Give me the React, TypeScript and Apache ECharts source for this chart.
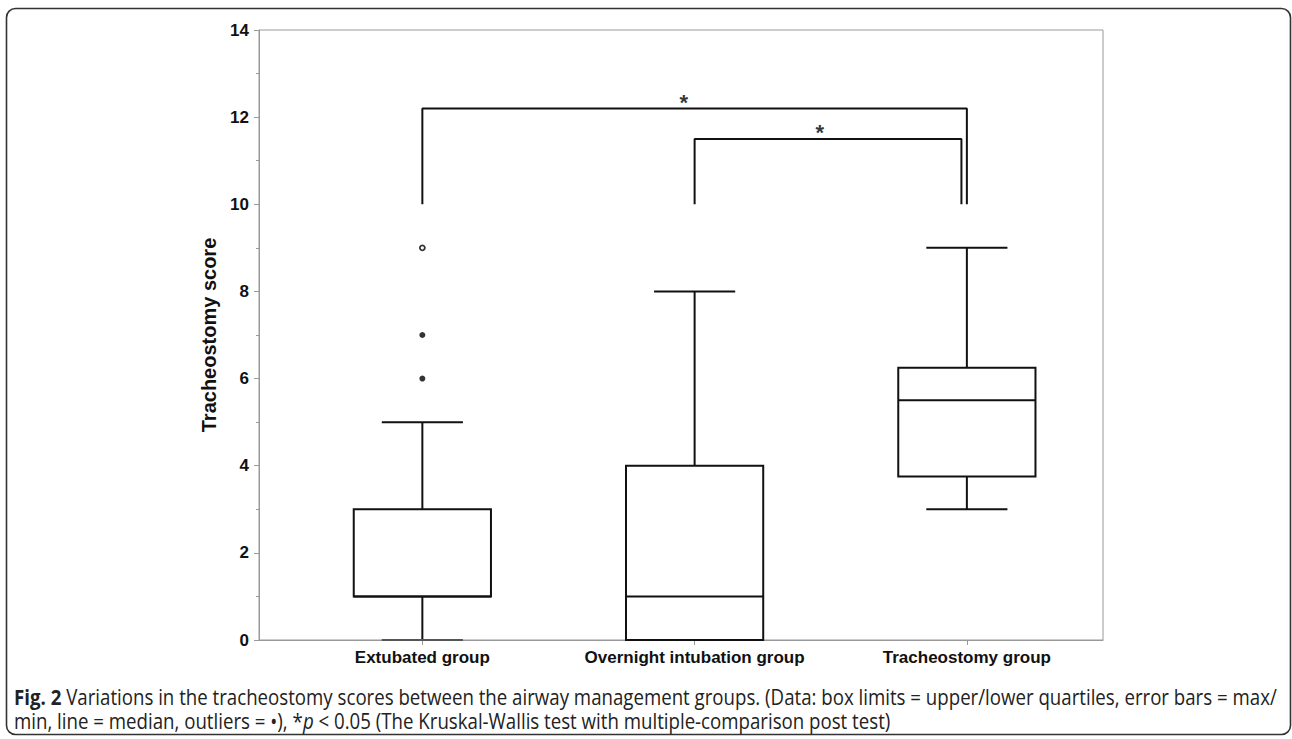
import React, { useEffect, useRef } from "react";
import * as echarts from "echarts";

const categories = ["Extubated group", "Overnight intubation group", "Tracheostomy group"];
const positions = [1, 2, 3];
// [min, Q1, median, Q3, max]
const boxStats = [
  [0, 1, 1, 3, 5],
  [0, 0, 1, 4, 8],
  [3, 3.75, 5.5, 6.25, 9],
];
const filledOutliers = [[1, 7], [1, 6]];
const openOutliers = [[1, 9]];
const bracket1 = [[1, 10], [1, 12.2], [3, 12.2], [3, 10]];
const bracket2 = [[2, 10], [2, 11.5], [2.98, 11.5], [2.98, 10]];
const stars = [[1.96, 12.2], [2.46, 11.5]];
const yTicks = { min: 0, max: 14, interval: 2 };
const captionBold = "Fig. 2";
const caption1 = " Variations in the tracheostomy scores between the airway management groups. (Data: box limits = upper/lower quartiles, error bars = max/";
const caption2a = "min, line = median, outliers = •), *";
const caption2b = "p";
const caption2c = " < 0.05 (The Kruskal-Wallis test with multiple-comparison post test)";

export default function App() {
  const ref = useRef<HTMLDivElement>(null);
  useEffect(() => {
    document.body.style.margin = "0";
    const chart = echarts.init(ref.current!, null, { renderer: "svg" });
    const boxData = positions.map((p, i) => [p, ...boxStats[i]]);
    const font = "'Liberation Sans', Arial, sans-serif";
    const capFont = "'Open Sans', sans-serif";
    const capSize = 21;
    const cv = document.createElement("canvas").getContext("2d")!;
    cv.font = `bold ${capSize}px ${capFont}`;
    const wb = cv.measureText(captionBold).width;
    cv.font = `${capSize}px ${capFont}`;
    const w1 = wb + cv.measureText(caption1).width;
    const sx = 1264 / w1;
    const capFill = "#222";
    chart.setOption({
      animation: false,
      backgroundColor: "#fff",
      grid: { left: 259, top: 30, right: 189, bottom: 99, show: true, borderColor: "#999", borderWidth: 1 },
      xAxis: {
        type: "value",
        min: 0.4,
        max: 3.5,
        splitLine: { show: false },
        axisLine: { lineStyle: { color: "#999", width: 1 } },
        axisTick: { customValues: positions, length: 5, lineStyle: { color: "#999" } },
        axisLabel: {
          customValues: positions,
          formatter: (v: number) => categories[positions.indexOf(Math.round(v))] || "",
          color: "#111",
          fontWeight: "bold",
          fontSize: 17,
          fontFamily: font,
          margin: 9,
        },
      },
      yAxis: {
        type: "value",
        min: yTicks.min,
        max: yTicks.max,
        interval: yTicks.interval,
        name: "Tracheostomy score",
        nameLocation: "middle",
        nameGap: 38,
        nameTextStyle: { fontWeight: "bold", fontSize: 20, fontFamily: font, color: "#111" },
        splitLine: { show: false },
        axisLine: { show: true, lineStyle: { color: "#999", width: 1 } },
        axisTick: { show: true, length: 5, lineStyle: { color: "#999" } },
        minorTick: { show: true, splitNumber: 2, length: 3, lineStyle: { color: "#999" } },
        axisLabel: { color: "#111", fontWeight: "bold", fontSize: 17, fontFamily: font, margin: 10 },
      },
      series: [
        {
          type: "custom",
          data: boxData,
          renderItem: (params: any, api: any) => {
            const x = api.value(0);
            const mn = api.value(1), q1 = api.value(2), md = api.value(3), q3 = api.value(4), mx = api.value(5);
            const bw = 0.252, cw = 0.149;
            const pL = api.coord([x - bw, q1]);
            const pR = api.coord([x + bw, q3]);
            const cL = api.coord([x - cw, mn])[0];
            const cR = api.coord([x + cw, mn])[0];
            const cx = api.coord([x, 0])[0];
            const yMin = api.coord([x, mn])[1], yMax = api.coord([x, mx])[1];
            const yQ1 = pL[1], yQ3 = pR[1], yMd = api.coord([x, md])[1];
            const st = { stroke: "#111", lineWidth: 2, fill: null };
            return {
              type: "group",
              children: [
                { type: "line", shape: { x1: cx, y1: yQ1, x2: cx, y2: yMin }, style: st },
                { type: "line", shape: { x1: cx, y1: yQ3, x2: cx, y2: yMax }, style: st },
                { type: "line", shape: { x1: cL, y1: yMin, x2: cR, y2: yMin }, style: { ...st, stroke: mn === 0 ? "#555" : "#111" } },
                { type: "line", shape: { x1: cL, y1: yMax, x2: cR, y2: yMax }, style: st },
                { type: "rect", shape: { x: pL[0], y: yQ3, width: pR[0] - pL[0], height: yQ1 - yQ3 }, style: { stroke: "#111", lineWidth: 2, fill: "#fff" } },
                { type: "line", shape: { x1: pL[0], y1: yMd, x2: pR[0], y2: yMd }, style: st },
              ],
            };
          },
          z: 3,
        },
        {
          type: "scatter",
          data: filledOutliers,
          symbol: "circle",
          symbolSize: 6,
          itemStyle: { color: "#000" },
          z: 4,
        },
        {
          type: "scatter",
          data: openOutliers,
          symbol: "circle",
          symbolSize: 5,
          itemStyle: { color: "#fff", borderColor: "#000", borderWidth: 1.8 },
          z: 4,
        },
        {
          type: "line",
          data: bracket1,
          symbol: "none",
          lineStyle: { color: "#111", width: 2 },
          z: 3,
        },
        {
          type: "line",
          data: bracket2,
          symbol: "none",
          lineStyle: { color: "#111", width: 2 },
          z: 3,
        },
        {
          type: "scatter",
          data: stars,
          symbolSize: 0,
          label: {
            show: true,
            formatter: "*",
            position: "top",
            distance: -5,
            color: "#000",
            fontWeight: "bold",
            fontSize: 22,
            fontFamily: font,
          },
          z: 5,
        },
      ],
      graphic: [
        {
          type: "rect",
          shape: { x: 6.5, y: 8.5, width: 1284, height: 726, r: 9 },
          style: { fill: null, stroke: "#333", lineWidth: 1.6 },
          silent: true,
        },
        {
          type: "text",
          x: 14,
          y: 687,
          scaleX: sx,
          style: {
            text: "{b|" + captionBold + "}{n|" + caption1 + "}",
            rich: {
              b: { fontWeight: "bold", fontSize: capSize, fontFamily: capFont, fill: capFill },
              n: { fontSize: capSize, fontFamily: capFont, fill: capFill },
            },
          },
        },
        {
          type: "text",
          x: 14,
          y: 711,
          scaleX: sx,
          style: {
            text: "{n|" + caption2a + "}{i|" + caption2b + "}{n|" + caption2c + "}",
            rich: {
              n: { fontSize: capSize, fontFamily: capFont, fill: capFill },
              i: { fontSize: capSize, fontFamily: capFont, fontStyle: "italic", fill: capFill },
            },
          },
        },
      ],
    });
    return () => chart.dispose();
  }, []);
  return <div ref={ref} style={{ width: 1292, height: 739 }} />;
}
